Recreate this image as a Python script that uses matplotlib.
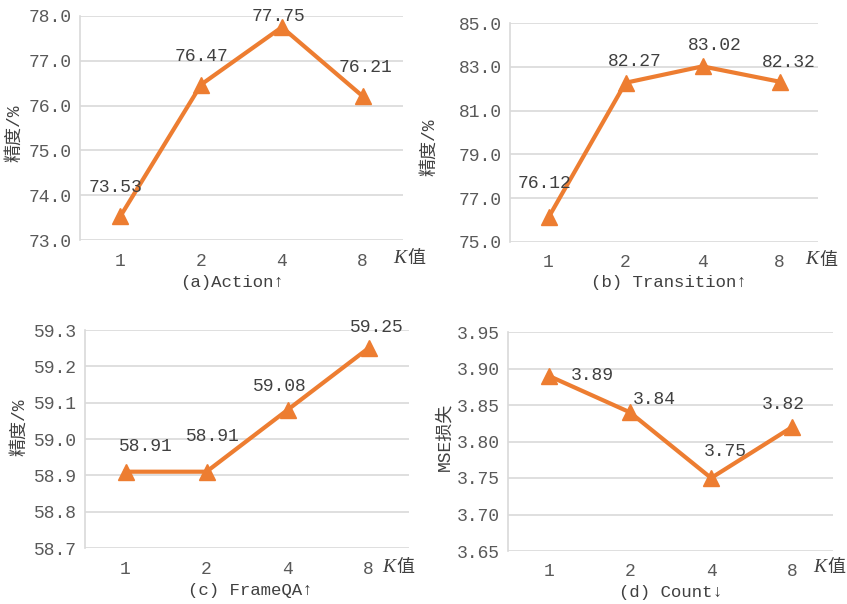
import numpy as np
import matplotlib.pyplot as plt

plt.rcParams['font.family'] = ['Liberation Mono', 'Noto Sans CJK SC', 'DejaVu Sans']

W, H = 847, 604

k_labels = ['1', '2', '4', '8']

action = [73.53, 76.47, 77.75, 76.21]
transition = [76.12, 82.27, 83.02, 82.32]
frameqa = [58.91, 58.91, 59.08, 59.25]
count = [3.89, 3.84, 3.75, 3.82]

titles = ['(a)Action↑', '(b) Transition↑', '(c) FrameQA↑', '(d) Count↓']
ylabels = ['精度/%', '精度/%', '精度/%', 'MSE损失']

orange = '#ED7D31'
grid_c = '#D9D9D9'
txt_c = '#404040'


def fx(x):
    return x / W


def fy(y):
    return 1 - y / H


# panel boxes in pixels: left, top, right, bottom
boxes = [(80, 16, 403, 240), (510, 23, 818, 242),
         (85, 330, 409, 548), (508, 332, 833, 551)]
ylims = [(73, 78), (75, 85), (58.7, 59.3), (3.65, 3.95)]
ysteps = [1.0, 2.0, 0.1, 0.05]
yfmt = ['%.1f', '%.1f', '%.1f', '%.2f']
series = [action, transition, frameqa, count]
# data label offsets in pixels (dx, dy up)
offsets = [[(-5, 29), (0, 28), (-3, 11), (3, 29)],
           [(-4, 34), (9, 21), (12, 21), (9, 19)],
           [(20, 25), (6, 35), (-8, 23), (8, 21)],
           [(44, 0), (24, 13), (14, 26), (-9, 22)]]
ylab_pos = [(15, 133), (430, 147), (20, 427), (445, 437)]
k_pos = [(393, 258), (805, 260), (382, 567), (813, 567)]
title_pos = [(232, 282), (669, 283), (250, 590), (671, 593)]

fig = plt.figure(figsize=(W / 100, H / 100), dpi=100)

for i in range(4):
    l, t, r, b = boxes[i]
    ax = fig.add_axes([fx(l), fy(b), (r - l) / W, (b - t) / H])
    x = np.arange(len(k_labels))
    y = series[i]
    ax.plot(x, y, color=orange, lw=3, marker='^', ms=11, zorder=3)
    for j in range(len(y)):
        dx, dy = offsets[i][j]
        ax.annotate('%.2f' % y[j], (x[j], y[j]), xytext=(dx, dy),
                    textcoords='offset pixels', ha='center', va='center',
                    fontsize=13, color=txt_c, annotation_clip=False)
    lo, hi = ylims[i]
    ax.set_ylim(lo, hi)
    ax.set_xlim(-0.5, 3.5)
    ticks = np.arange(lo, hi + ysteps[i] / 2, ysteps[i])
    ax.set_yticks(ticks)
    ax.set_yticklabels([yfmt[i] % v for v in ticks])
    ax.set_xticks(x)
    ax.set_xticklabels(k_labels)
    ax.tick_params(length=0, labelsize=13, labelcolor='#595959')
    ax.tick_params(axis='y', pad=6)
    ax.tick_params(axis='x', pad=9)
    ax.grid(axis='y', color=grid_c, lw=1.2)
    ax.set_axisbelow(True)
    for s in ['top', 'right', 'bottom']:
        ax.spines[s].set_visible(False)
    ax.spines['left'].set_color(grid_c)
    ax.spines['left'].set_linewidth(1.2)

    fig.text(fx(ylab_pos[i][0]), fy(ylab_pos[i][1]), ylabels[i], rotation=90,
             ha='center', va='center', fontsize=13, color=txt_c)
    kx, ky = k_pos[i]
    fig.text(fx(kx), fy(ky), 'K', ha='left', va='center', fontsize=14,
             family='Liberation Serif', style='italic', color=txt_c)
    fig.text(fx(kx + 14), fy(ky), '值', ha='left', va='center', fontsize=13,
             family='Noto Sans CJK SC', color=txt_c)
    fig.text(fx(title_pos[i][0]), fy(title_pos[i][1]), titles[i], ha='center',
             va='center', fontsize=12.5, color=txt_c)

fig.savefig('out.png', dpi=100)
